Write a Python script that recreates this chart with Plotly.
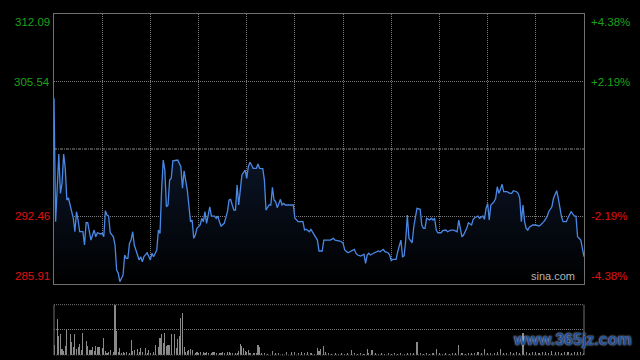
import plotly.graph_objects as go

# ---------------- data ----------------
prev_close = 299.00
axis_min, axis_max = 285.91, 312.09
left_ticks = [312.09, 305.54, 292.46, 285.91]
right_ticks = ["+4.38%", "+2.19%", "-2.19%", "-4.38%"]
tick_colors = ["#1aa31a", "#1aa31a", "#e01010", "#e01010"]

price_minutes = [0, 1, 3, 4, 5, 6, 7, 8, 9, 11, 12, 13, 14, 15, 16, 18, 19, 20, 21, 23,
                 24, 25, 26, 27, 29, 30, 31, 32, 33, 34, 35, 37, 38, 39, 40, 41, 43, 44, 45, 46,
                 47, 48, 49, 50, 52, 53, 54, 55, 56, 57, 58, 60, 61, 62, 63, 64, 65, 66, 67, 68,
                 69, 70, 71, 72, 73, 74, 77, 79, 80, 81, 83, 84, 85, 86, 87, 88, 89, 91, 92, 93,
                 94, 95, 96, 97, 98, 100, 101, 102, 103, 104, 106, 107, 108, 109, 110, 111, 112, 113, 114, 115,
                 116, 117, 119, 120, 121, 122, 123, 124, 126, 127, 128, 130, 131, 132, 133, 134, 135, 136, 137, 138,
                 139, 140, 141, 142, 143, 144, 149, 150, 152, 155, 156, 157, 159, 160, 161, 162, 164, 165, 167, 168,
                 172, 174, 175, 178, 179, 180, 181, 183, 185, 187, 188, 189, 191, 193, 194, 195, 196, 197, 199, 202,
                 203, 205, 206, 208, 209, 210, 211, 213, 214, 216, 217, 218, 219, 220, 221, 222, 223, 224, 226, 228,
                 229, 230, 231, 232, 234, 235, 236, 237, 238, 239, 241, 242, 244, 245, 247, 249, 250, 251, 252, 253,
                 254, 255, 256, 257, 258, 260, 261, 262, 264, 265, 267, 268, 269, 270, 271, 272, 274, 275, 276, 277,
                 278, 279, 280, 282, 284, 285, 286, 288, 289, 290, 291, 292, 293, 294, 295, 296, 298, 300, 302, 303,
                 305, 307, 308, 310, 311, 312, 313, 314, 315, 316, 317, 319, 320, 322, 324, 325, 326, 328, 330]

prices = [303.92, 291.95, 298.51, 294.70, 295.70, 298.51, 297.16, 294.05, 294.25, 292.79, 292.31, 290.98, 292.92, 292.11, 290.98, 290.98, 289.69, 291.85, 291.85, 290.17,
          290.66, 291.14, 290.49, 290.88, 290.76, 290.82, 290.49, 293.02, 292.60, 292.50, 290.88, 290.49, 289.69, 287.27, 286.95, 286.13, 286.78, 288.72, 288.40, 288.40,
          289.85, 290.17, 290.98, 289.69, 288.72, 288.24, 288.56, 288.07, 288.56, 288.72, 288.94, 288.24, 288.89, 288.56, 288.89, 289.21, 291.14, 290.82, 295.02, 297.93,
          296.96, 293.40, 293.57, 295.99, 296.16, 297.86, 297.93, 297.28, 295.19, 296.89, 295.02, 293.57, 291.95, 292.11, 290.34, 290.66, 291.31, 291.63, 292.28, 291.95,
          292.92, 291.79, 292.60, 293.40, 292.50, 292.50, 292.28, 292.50, 291.95, 291.53, 291.79, 292.28, 292.92, 294.05, 294.12, 293.57, 293.08, 293.08, 295.51, 293.57,
          295.34, 296.48, 296.96, 296.16, 297.28, 297.71, 297.45, 297.13, 297.13, 297.54, 297.13, 297.09, 295.99, 293.08, 293.35, 293.57, 293.57, 295.28, 294.05, 293.89,
          293.31, 293.79, 294.12, 293.57, 293.73, 293.57, 293.57, 292.28, 291.95, 291.95, 291.15, 291.21, 290.98, 291.21, 290.98, 290.66, 290.17, 289.11, 289.11, 290.17,
          290.17, 290.34, 290.17, 290.08, 290.01, 289.85, 289.21, 288.94, 289.11, 289.27, 288.89, 288.72, 288.62, 288.79, 287.92, 288.72, 288.89, 288.72, 288.89, 289.11,
          289.04, 289.27, 289.04, 288.94, 288.72, 288.17, 288.30, 288.30, 289.04, 290.17, 288.56, 288.64, 290.17, 292.60, 290.34, 290.17, 289.91, 291.46, 293.25, 293.15,
          291.63, 291.31, 291.31, 292.28, 292.11, 292.28, 292.11, 292.28, 291.14, 290.88, 290.88, 291.08, 291.14, 290.98, 291.14, 291.14, 291.08, 290.98, 292.11, 291.14,
          290.49, 290.66, 290.98, 291.31, 291.85, 291.63, 292.18, 292.34, 292.50, 292.28, 292.50, 292.18, 293.25, 293.73, 292.11, 293.57, 293.89, 294.22, 295.34, 294.70,
          295.09, 295.58, 294.86, 294.86, 294.70, 294.70, 294.96, 294.86, 294.70, 294.22, 291.95, 293.57, 291.95, 291.31, 291.14, 291.41, 291.63, 291.63, 291.53, 291.63,
          291.95, 292.43, 292.92, 293.40, 294.22, 294.70, 294.96, 294.22, 293.25, 292.43, 291.95, 291.95, 292.34, 292.92, 292.50, 292.50, 290.49, 290.17, 288.56]

vol_minutes = [0, 2, 3, 4, 5, 6, 7, 8, 10, 11, 12, 13, 14, 15, 16, 17, 18, 20, 21, 22,
               23, 24, 25, 26, 27, 28, 30, 31, 32, 33, 34, 35, 37, 38, 39, 40, 41, 42, 43, 44,
               45, 47, 48, 49, 50, 52, 53, 54, 55, 57, 58, 59, 60, 62, 63, 65, 66, 67, 68, 69,
               70, 71, 72, 73, 75, 76, 77, 78, 79, 80, 81, 82, 83, 84, 85, 86, 88, 89, 90, 91,
               93, 94, 95, 96, 98, 99, 100, 101, 103, 104, 105, 106, 108, 109, 110, 111, 113, 114, 115, 116,
               117, 118, 119, 120, 121, 122, 124, 125, 126, 127, 128, 129, 131, 133, 136, 138, 140, 142, 145, 148,
               150, 152, 154, 156, 158, 160, 162, 164, 165, 166, 168, 169, 171, 173, 175, 177, 179, 181, 183, 185,
               187, 189, 191, 193, 195, 196, 198, 200, 202, 204, 206, 208, 210, 212, 214, 216, 218, 220, 222, 224,
               226, 228, 230, 232, 234, 236, 238, 240, 242, 244, 246, 248, 250, 252, 254, 256, 258, 260, 262, 264,
               266, 268, 270, 272, 274, 276, 278, 280, 282, 284, 286, 288, 290, 292, 294, 296, 298, 300, 302, 304,
               306, 308, 310, 312, 314, 316, 318, 320, 322, 324, 326, 328, 330]

volumes = [19, 71, 37, 41, 11, 7, 17, 49, 41, 26, 16, 41, 11, 16, 21, 9, 44, 28, 17, 9,
           9, 16, 7, 17, 15, 15, 13, 33, 7, 4, 5, 9, 5, 100, 47, 6, 13, 3, 6, 4,
           5, 3, 29, 8, 9, 12, 5, 13, 5, 13, 3, 9, 4, 5, 19, 16, 33, 41, 24, 43,
           17, 19, 20, 41, 41, 13, 31, 37, 73, 83, 15, 6, 7, 9, 11, 9, 4, 6, 3, 5,
           6, 4, 5, 4, 4, 5, 6, 4, 3, 4, 5, 3, 5, 5, 3, 3, 3, 4, 7, 21,
           17, 13, 8, 5, 9, 3, 3, 3, 3, 19, 16, 3, 3, 2, 7, 3, 3, 2, 6, 6,
           6, 3, 5, 3, 5, 3, 2, 13, 7, 12, 17, 5, 3, 2, 3, 2, 3, 2, 3, 9,
           3, 2, 3, 2, 11, 3, 9, 3, 2, 3, 2, 4, 2, 3, 2, 3, 2, 3, 4, 3,
           25, 3, 2, 3, 2, 3, 11, 3, 2, 3, 2, 3, 4, 19, 3, 2, 3, 4, 3, 5,
           3, 11, 3, 4, 3, 5, 11, 3, 4, 5, 3, 6, 4, 44, 5, 4, 6, 5, 4, 6,
           5, 4, 7, 5, 6, 4, 5, 6, 4, 5, 6, 5, 4]

grid_minutes = [30, 60, 90, 120, 150, 180, 210, 240, 270, 300]

# ---------------- figure ----------------
GRID = "#7a7a7a"
BORDER = "#707070"
FONT = "Liberation Sans, Arial, sans-serif"

fig = go.Figure()

fig.add_trace(go.Scatter(
    x=price_minutes, y=prices, mode="lines",
    line=dict(color="#4a88e6", width=1.3),
    fill="tozeroy",
    fillgradient=dict(type="vertical",
                      colorscale=[[0, "rgba(0,0,0,1)"], [1, "rgba(16,30,56,1)"]],
                      start=axis_min, stop=max(prices)),
    hoverinfo="skip", showlegend=False, xaxis="x", yaxis="y"))

fig.add_trace(go.Bar(
    x=vol_minutes, y=volumes, width=0.7,
    marker=dict(color="#8a8a8a", line=dict(width=0)),
    hoverinfo="skip", showlegend=False, xaxis="x2", yaxis="y2"))

main_bottom = 0.2082
vol_top = 0.1475

fig.update_layout(
    width=640, height=360,
    margin=dict(l=54, r=56, t=14, b=5),
    paper_bgcolor="black", plot_bgcolor="black",
    font=dict(family=FONT, size=11),
    bargap=0,
    xaxis=dict(domain=[0, 1], range=[0, 330], showticklabels=False, ticks="",
               showgrid=True, tickvals=grid_minutes, gridcolor=GRID, griddash="1px,1px",
               gridwidth=1, zeroline=False, showline=True, mirror=True,
               linecolor=BORDER, linewidth=1),
    yaxis=dict(domain=[main_bottom, 1], range=[axis_min, axis_max], showticklabels=False,
               ticks="", showgrid=True, tickvals=[left_ticks[1], left_ticks[2]],
               gridcolor=GRID, griddash="1px,1px", gridwidth=1, zeroline=False,
               showline=True, mirror=True, linecolor=BORDER, linewidth=1),
    xaxis2=dict(domain=[0, 1], range=[0, 330], anchor="y2", showticklabels=False,
                ticks="", showgrid=False, zeroline=False, showline=False),
    yaxis2=dict(domain=[0, vol_top], range=[0, max(volumes)], anchor="x2",
                showticklabels=False, ticks="", showgrid=True,
                tickvals=[max(volumes) / 2], gridcolor=GRID, griddash="1px,1px",
                zeroline=False, showline=False),
)

shapes = [
    # previous close line
    dict(type="line", xref="x domain", yref="y", x0=0, x1=1, y0=prev_close, y1=prev_close,
         line=dict(color="#8c8c8c", width=1, dash="3px,1px,1px,1px")),
    # volume panel frame
    dict(type="line", xref="x2 domain", yref="y2 domain", x0=0, x1=1, y0=1, y1=1,
         line=dict(color=GRID, width=1, dash="1px,1px")),
    dict(type="line", xref="x2 domain", yref="y2 domain", x0=0, x1=1, y0=0, y1=0,
         line=dict(color="#555555", width=1, dash="1px,1px")),
    dict(type="line", xref="x2 domain", yref="y2 domain", x0=0, x1=0, y0=0, y1=1,
         line=dict(color=BORDER, width=1)),
    dict(type="line", xref="x2 domain", yref="y2 domain", x0=1, x1=1, y0=0, y1=1,
         line=dict(color=BORDER, width=1)),
]
fig.update_layout(shapes=shapes)

anchors = ["top", "middle", "middle", "bottom"]
ann = []
for val, pct, col, anc in zip(left_ticks, right_ticks, tick_colors, anchors):
    ann.append(dict(xref="paper", yref="y", x=0, y=val, text=f"{val:.2f}",
                    xanchor="right", yanchor=anc, xshift=-2, showarrow=False,
                    font=dict(color=col, size=11.5, family=FONT)))
    ann.append(dict(xref="paper", yref="y", x=1, y=val, text=pct,
                    xanchor="left", yanchor=anc, xshift=5, showarrow=False,
                    font=dict(color=col, size=11.5, family=FONT)))

ann.append(dict(xref="paper", yref="y", x=0.986, y=axis_min, text="sina.com",
                xanchor="right", yanchor="bottom", yshift=0, showarrow=False,
                font=dict(color="#b4b4b4", size=11, family=FONT)))
ann.append(dict(xref="paper", yref="paper", x=1.095, y=0.045, text="www.365jz.com",
                xanchor="right", yanchor="middle", showarrow=False,
                font=dict(color="#1f4f98", size=16, family=FONT, weight="bold",
                          shadow="0px 0px 2px #d8e4f4")))
fig.update_layout(annotations=ann)

fig.write_html("out.html", config={"displayModeBar": False, "staticPlot": True},
               post_script="document.body.style.margin='0';document.body.style.background='black';")
